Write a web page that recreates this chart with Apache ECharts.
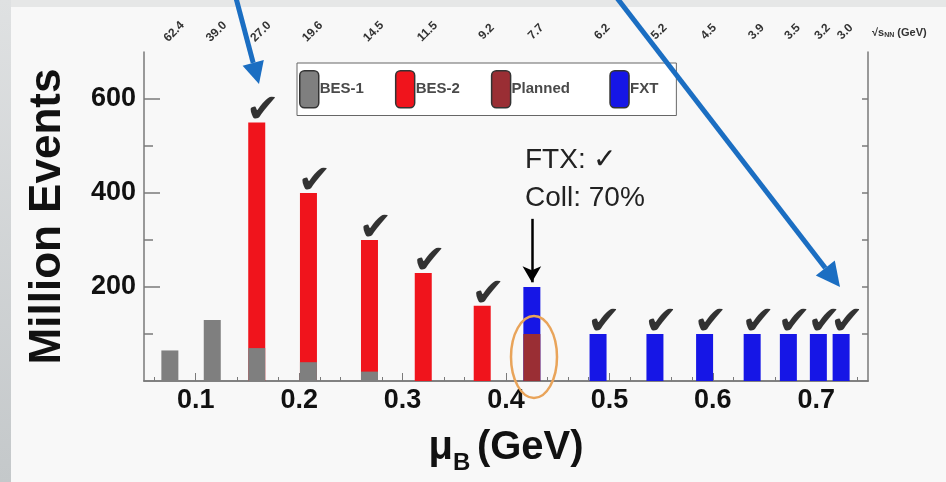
<!DOCTYPE html>
<html><head><meta charset="utf-8">
<script src="https://cdn.jsdelivr.net/npm/echarts@6/dist/echarts.min.js"></script>
<style>html,body{margin:0;padding:0;background:#f8f8f8}#c{width:946px;height:482px}</style>
</head><body><div id="c"></div>
<script>
// ---- data ----
const sqrtS   = ['62.4','39.0','27.0','19.6','14.5','11.5','9.2','7.7','6.2','5.2','4.5','3.9','3.5','3.2','3.0'];
const muB     = [0.075,0.116,0.159,0.209,0.268,0.320,0.377,0.425,0.489,0.544,0.592,0.638,0.673,0.702,0.724];
const bes1    = [65,130,70,40,20,0,0,0,0,0,0,0,0,0,0];
const planned = [0,0,0,0,0,0,0,100,0,0,0,0,0,0,0];
const bes2    = [0,0,480,360,280,230,160,0,0,0,0,0,0,0,0];
const fxt     = [0,0,0,0,0,0,0,100,100,100,100,100,100,100,100];
const done    = [false,false,true,true,true,true,true,false,true,true,true,true,true,true,true];
const xLabels = [0.1,0.2,0.3,0.4,0.5,0.6,0.7];
const xMinorTicks = [0.06,0.08,0.10,0.12,0.14,0.16,0.18,0.20,0.22,0.24,0.26,0.28,0.30,0.32,0.34,0.36,0.38,0.40,0.42,0.44,0.46,0.48,0.50,0.52,0.54,0.56,0.58,0.60,0.62,0.64,0.66,0.68,0.70,0.72,0.74];
const yLabels = [200,400,600];
const yMinorTicks = [100,300,500];
const yRightTicks = [100,200,300,400,500,600];

const FONT = 'Liberation Sans, Arial, sans-serif';
const frame = {color:'#7a7a7a', width:1.5};
const X0 = 0.05, X1 = 0.75, Y0 = 0, Y1 = 700;

// stacked segments drawn as overlapping bars: an upper segment's bar reaches the running total
const pair = arr => muB.map((x,i)=>[x, arr[i] > 0 ? arr[i] : '-']);
const topOf = (lower, upper) => muB.map((x,i)=>[x, upper[i] > 0 ? lower[i]+upper[i] : '-']);
const checks = muB.map((x,i)=> done[i] ? [x, bes1[i]+planned[i]+bes2[i]+fxt[i]] : null).filter(Boolean);

const chart = echarts.init(document.getElementById('c'), null, {renderer:'canvas'});
const barBase = {type:'bar', barWidth:17, barGap:'-100%', xAxisIndex:0, yAxisIndex:0, animation:false};

chart.setOption({
  backgroundColor:'#f8f8f8',
  animation:false,
  grid:{left:144, right:78, top:52, bottom:101, outerBoundsMode:'none'},
  legend:{
    data:['BES-1','BES-2','Planned','FXT'],
    formatter: name => name === 'Planned' ? name + '  ' : name,
    left:297, top:63, orient:'horizontal',
    itemWidth:19, itemHeight:37, itemGap:31, icon:'roundRect',
    backgroundColor:'#ffffff', borderColor:'#666', borderWidth:1, borderRadius:0,
    padding:[7,18,7,2],
    itemStyle:{borderColor:'#333', borderWidth:1.5},
    textStyle:{fontFamily:FONT, fontSize:15, fontWeight:'bold', color:'#4a4a4a', padding:[0,0,0,-4]},
    selectedMode:false
  },
  xAxis:[
    {type:'value', position:'bottom', min:X0, max:X1,
     axisLine:{lineStyle:frame}, splitLine:{show:false},
     axisTick:{inside:true, length:4, customValues:xMinorTicks, lineStyle:{color:'#7a7a7a'}},
     axisLabel:{customValues:xLabels, fontFamily:FONT, fontSize:27, fontWeight:'bold', color:'#111', margin:6,
       formatter:v=>v.toFixed(1)},
     name:'{mu|μ}{sub|B}  {g|(GeV)}', nameLocation:'middle', nameGap:40,
     nameTextStyle:{rich:{
       mu:{fontFamily:FONT, fontSize:40, fontWeight:'bold', color:'#111'},
       sub:{fontFamily:FONT, fontSize:24, fontWeight:'bold', color:'#111', padding:[30,0,0,0]},
       g:{fontFamily:FONT, fontSize:40, fontWeight:'bold', color:'#111'}
     }}},
    {type:'value', position:'top', min:X0, max:X1,
     axisLine:{lineStyle:frame}, splitLine:{show:false}, axisTick:{show:false},
     axisLabel:{customValues:muB, formatter:v=>sqrtS[muB.indexOf(v)], rotate:45,
       align:'center', verticalAlign:'middle', margin:16, padding:[0,0,0,12], hideOverlap:false,
       fontFamily:FONT, fontSize:12, fontWeight:'bold', color:'#333'}},
    {type:'value', position:'bottom', min:X0, max:X1,
     axisLine:{show:false}, splitLine:{show:false}, axisLabel:{show:false},
     axisTick:{inside:true, length:8, customValues:xLabels, lineStyle:{color:'#7a7a7a'}}}
  ],
  yAxis:[
    {type:'value', position:'left', min:Y0, max:Y1,
     axisLine:{show:true, lineStyle:frame}, splitLine:{show:false},
     axisTick:{show:true, inside:true, length:16, customValues:yLabels, lineStyle:{color:'#7a7a7a', width:1.5}},
     axisLabel:{customValues:yLabels, fontFamily:FONT, fontSize:27, fontWeight:'bold', color:'#111', margin:8},
     name:'Million Events', nameLocation:'middle', nameGap:74,
     nameTextStyle:{fontFamily:FONT, fontSize:44, fontWeight:'bold', color:'#111'}},
    {type:'value', position:'left', min:Y0, max:Y1,
     axisLine:{show:false}, splitLine:{show:false}, axisLabel:{show:false},
     axisTick:{show:true, inside:true, length:9, customValues:yMinorTicks, lineStyle:{color:'#7a7a7a', width:1.5}}},
    {type:'value', position:'right', min:Y0, max:Y1,
     axisLine:{show:true, lineStyle:frame}, splitLine:{show:false}, axisLabel:{show:false},
     axisTick:{show:true, inside:true, length:6, customValues:yRightTicks, lineStyle:{color:'#7a7a7a', width:1.5}}}
  ],
  series:[
    Object.assign({}, barBase, {name:'BES-2', data:topOf(bes1,bes2), itemStyle:{color:'#f0141c'}}),
    Object.assign({}, barBase, {name:'FXT', data:topOf(planned,fxt), itemStyle:{color:'#1616e6'},
      markLine:{silent:true, animation:false, symbol:['none','arrow'], symbolSize:[14,16],
        lineStyle:{color:'#000', width:2.5, type:'solid'}, label:{show:false},
        data:[[{coord:[muB[7], 345]},{coord:[muB[7], 210]}]]}}),
    Object.assign({}, barBase, {name:'BES-1', data:pair(bes1), itemStyle:{color:'#7f7f7f'}}),
    Object.assign({}, barBase, {name:'Planned', data:pair(planned), itemStyle:{color:'#9a2e34'}}),
    {name:'done', type:'scatter', xAxisIndex:0, yAxisIndex:0, data:checks, symbolSize:1,
     itemStyle:{color:'rgba(0,0,0,0)'}, silent:true, z:5,
     label:{show:true, position:'top', distance:-10, offset:[6,0], formatter:'✔',
       fontFamily:'DejaVu Sans', fontSize:40, color:'#000'}}
  ],
  graphic:[
    {type:'rect', shape:{x:0,y:0,width:946,height:7}, style:{fill:'#e6e7e7'}, z:-10, silent:true},
    {type:'rect', shape:{x:0,y:0,width:11,height:482}, style:{fill:new echarts.graphic.LinearGradient(0,0,0,1,[{offset:0,color:'#dfe1e2'},{offset:1,color:'#c4c8ca'}])}, z:-9, silent:true},
    {type:'text', left:872, top:27, silent:true, z:10,
     style:{rich:{r:{font:'bold 11px Liberation Sans, Arial, sans-serif', fill:'#333'}, s:{font:'bold 7px Liberation Sans, Arial, sans-serif', fill:'#333', padding:[6,0,0,0]}},
       text:'{r|√s}{s|NN}{r| (GeV)}'}},
    {type:'text', left:525, top:141, silent:true, z:10,
     style:{text:'FTX: ✓\nColl: 70%', font:'28px Liberation Sans, Arial, sans-serif', fill:'#222', lineHeight:38}},
    {type:'ellipse', shape:{cx:534, cy:357, rx:23, ry:41}, style:{fill:'none', stroke:'#e9a45a', lineWidth:2.5}, z:20, silent:true},
    {type:'line', shape:{x1:236,y1:-2,x2:253.2,y2:62.8}, style:{stroke:'#1b6ec2', lineWidth:5}, z:30, silent:true},
    {type:'polygon', shape:{points:[[259,84],[242.6,65.7],[263.8,59.9]]}, style:{fill:'#1b6ec2'}, z:30, silent:true},
    {type:'line', shape:{x1:617,y1:-2,x2:825.3,y2:268}, style:{stroke:'#1b6ec2', lineWidth:5}, z:30, silent:true},
    {type:'polygon', shape:{points:[[840,287],[815.8,275.4],[834.8,260.6]]}, style:{fill:'#1b6ec2'}, z:30, silent:true}
  ]
});
</script></body></html>
